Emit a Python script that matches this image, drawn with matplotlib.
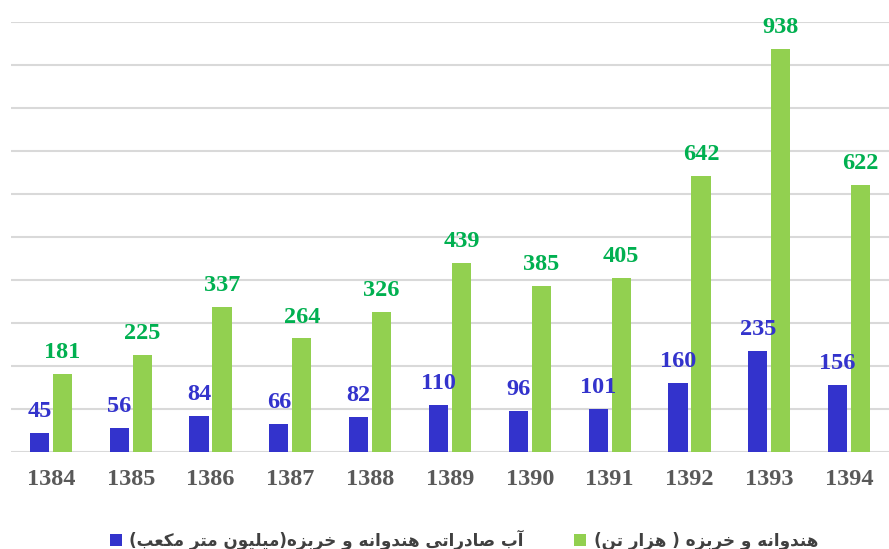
import numpy as np
import matplotlib.pyplot as plt

years = ['1384', '1385', '1386', '1387', '1388', '1389', '1390', '1391', '1392', '1393', '1394']
water = [45, 56, 84, 66, 82, 110, 96, 101, 160, 235, 156]
melon = [181, 225, 337, 264, 326, 439, 385, 405, 642, 938, 622]
label_water = 'آب صادراتی هندوانه و خربزه(میلیون متر مکعب)'
label_melon = 'هندوانه و خربزه ( هزار تن)'

# matplotlib has no arabic shaping, so map letters to presentation forms by hand
forms = {  # isolated, final, initial, medial
    'ا': ('\uFE8D', '\uFE8E', None, None),
    'آ': ('\uFE81', '\uFE82', None, None),
    'ب': ('\uFE8F', '\uFE90', '\uFE91', '\uFE92'),
    'ت': ('\uFE95', '\uFE96', '\uFE97', '\uFE98'),
    'خ': ('\uFEA5', '\uFEA6', '\uFEA7', '\uFEA8'),
    'د': ('\uFEA9', '\uFEAA', None, None),
    'ر': ('\uFEAD', '\uFEAE', None, None),
    'ز': ('\uFEAF', '\uFEB0', None, None),
    'ص': ('\uFEB9', '\uFEBA', '\uFEBB', '\uFEBC'),
    'ع': ('\uFEC9', '\uFECA', '\uFECB', '\uFECC'),
    'ل': ('\uFEDD', '\uFEDE', '\uFEDF', '\uFEE0'),
    'م': ('\uFEE1', '\uFEE2', '\uFEE3', '\uFEE4'),
    'ن': ('\uFEE5', '\uFEE6', '\uFEE7', '\uFEE8'),
    'ه': ('\uFEE9', '\uFEEA', '\uFEEB', '\uFEEC'),
    'و': ('\uFEED', '\uFEEE', None, None),
    'ی': ('\uFBFC', '\uFBFD', '\uFBFE', '\uFBFF'),
    'ک': ('\uFB8E', '\uFB8F', '\uFB90', '\uFB91'),
}


def shape(s):
    out = []
    for i, ch in enumerate(s):
        if ch not in forms:
            out.append({'(': ')', ')': '('}.get(ch, ch))
            continue
        prev = s[i - 1] if i > 0 else ''
        nxt = s[i + 1] if i + 1 < len(s) else ''
        join_prev = prev in forms and forms[prev][2] is not None
        join_next = forms[ch][2] is not None and nxt in forms
        iso, fin, ini, med = forms[ch]
        if join_prev and join_next:
            out.append(med)
        elif join_prev:
            out.append(fin)
        elif join_next:
            out.append(ini)
        else:
            out.append(iso)
    return ''.join(reversed(out))


blue = '#3333cc'
green = '#92d050'

fig = plt.figure(figsize=(8.89, 5.49), dpi=100)
ax = fig.add_axes([11 / 889, 1 - 452 / 549, 1 - 11 / 889, 430 / 549])

x = np.arange(len(years))
w = 0.24
off = 0.144
ax.bar(x - off, water, w, color=blue, zorder=3, label=shape(label_water))
ax.bar(x + off, melon, w, color=green, zorder=3, label=shape(label_melon))

for xi, v in zip(x, water):
    ax.annotate(str(v), (xi - off, v), xytext=(0, 11.5), textcoords='offset points',
                ha='center', va='baseline', color=blue, fontsize=17.5,
                fontweight='bold', family='Liberation Serif')
for xi, v in zip(x, melon):
    ax.annotate(str(v), (xi + off, v), xytext=(0, 11.5), textcoords='offset points',
                ha='center', va='baseline', color='#00b050', fontsize=17.5,
                fontweight='bold', family='Liberation Serif')

ax.set_xlim(-0.5, len(years) - 0.5)
ax.set_ylim(0, 1000)
ax.set_yticks(np.arange(0, 1001, 100))
ax.set_yticklabels([])
ax.yaxis.grid(True, color='#d9d9d9', linewidth=1.5, zorder=0)
ax.set_xticks(x)
ax.set_xticklabels(years, fontsize=17.5, fontweight='bold', family='Liberation Serif',
                   color='#595959')
ax.tick_params(length=0, pad=12)
for s in ax.spines.values():
    s.set_visible(False)

leg = fig.legend(loc='lower center', bbox_to_anchor=(0.522, -0.03), ncol=2, frameon=False,
                 prop={'family': 'DejaVu Sans', 'weight': 'bold', 'size': 12.1},
                 handlelength=0.7, handleheight=0.7, handletextpad=0.45, columnspacing=3.0)
for t in leg.get_texts():
    t.set_color('#404040')

fig.savefig('out.png', dpi=100)
